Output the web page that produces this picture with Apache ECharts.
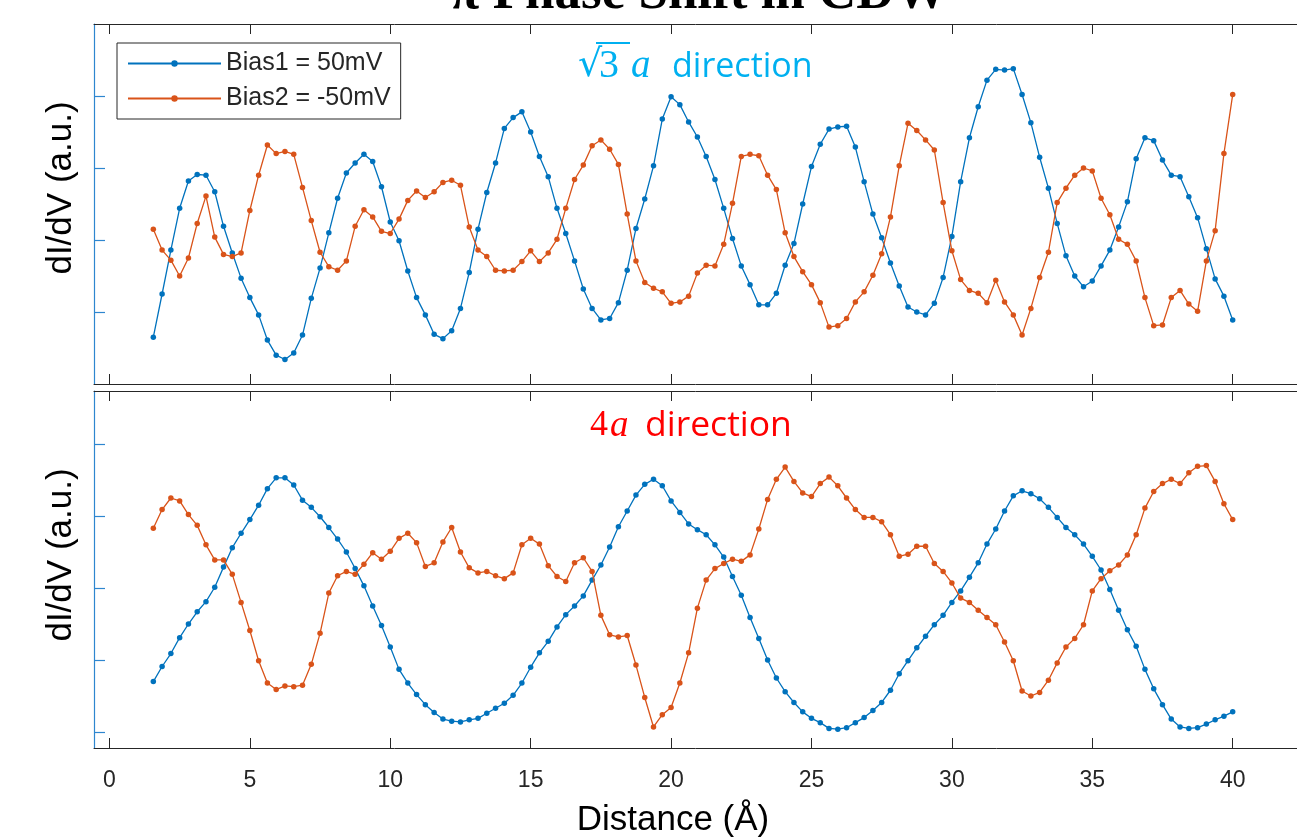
<!DOCTYPE html>
<html><head><meta charset="utf-8">
<script src="https://cdn.jsdelivr.net/npm/echarts@6/dist/echarts.min.js"></script>
<style>html,body{margin:0;padding:0;background:#fff;overflow:hidden}#c{width:1297px;height:839px}</style>
</head><body><div id="c"></div>
<script>
// Distance (Å) sample positions
const distance = [1.5625,1.875,2.1875,2.5,2.8125,3.125,3.4375,3.75,4.0625,4.375,4.6875,
5,5.3125,5.625,5.9375,6.25,6.5625,6.875,7.1875,7.5,7.8125,8.125,8.4375,8.75,9.0625,9.375,9.6875,
10,10.3125,10.625,10.9375,11.25,11.5625,11.875,12.1875,12.5,12.8125,13.125,13.4375,13.75,14.0625,14.375,14.6875,
15,15.3125,15.625,15.9375,16.25,16.5625,16.875,17.1875,17.5,17.8125,18.125,18.4375,18.75,19.0625,19.375,19.6875,
20,20.3125,20.625,20.9375,21.25,21.5625,21.875,22.1875,22.5,22.8125,23.125,23.4375,23.75,24.0625,24.375,24.6875,
25,25.3125,25.625,25.9375,26.25,26.5625,26.875,27.1875,27.5,27.8125,28.125,28.4375,28.75,29.0625,29.375,29.6875,
30,30.3125,30.625,30.9375,31.25,31.5625,31.875,32.1875,32.5,32.8125,33.125,33.4375,33.75,34.0625,34.375,34.6875,
35,35.3125,35.625,35.9375,36.25,36.5625,36.875,37.1875,37.5,37.8125,38.125,38.4375,38.75,39.0625,39.375,39.6875,
40];

// sqrt(3)a direction panel
const topBias1 = [0.65,1.25,1.86,2.44,2.82,2.91,2.90,2.67,2.19,1.82,
1.47,1.20,0.96,0.61,0.40,0.34,0.43,0.68,1.19,1.61,
2.10,2.58,2.93,3.07,3.19,3.09,2.74,2.25,1.99,1.57,
1.20,0.96,0.69,0.63,0.74,1.05,1.55,2.15,2.66,3.07,
3.55,3.70,3.78,3.50,3.16,2.88,2.44,2.09,1.71,1.32,
1.05,0.89,0.91,1.13,1.58,2.16,2.57,3.03,3.68,3.99,
3.88,3.64,3.43,3.16,2.84,2.44,2.02,1.64,1.38,1.10,
1.10,1.26,1.65,1.95,2.50,3.02,3.33,3.54,3.57,3.58,
3.29,2.81,2.36,2.03,1.68,1.36,1.07,1.00,0.96,1.12,
1.48,2.05,2.81,3.42,3.85,4.22,4.37,4.36,4.38,4.02,
3.63,3.15,2.72,2.23,1.78,1.50,1.35,1.43,1.64,1.86,
2.18,2.53,3.13,3.42,3.38,3.11,2.90,2.88,2.60,2.31,
1.88,1.46,1.22,0.89];
const topBias2 = [2.15,1.86,1.72,1.50,1.75,2.23,2.61,2.04,1.80,1.77,
1.82,2.41,2.90,3.32,3.20,3.23,3.19,2.73,2.27,1.83,
1.63,1.58,1.71,2.19,2.42,2.32,2.12,2.09,2.29,2.55,
2.68,2.59,2.67,2.80,2.83,2.76,2.18,1.86,1.77,1.58,
1.57,1.58,1.70,1.85,1.70,1.82,2.01,2.44,2.84,3.04,
3.31,3.39,3.26,3.05,2.36,1.71,1.41,1.33,1.28,1.12,
1.14,1.22,1.54,1.65,1.64,1.94,2.51,3.16,3.19,3.17,
2.90,2.70,2.10,1.77,1.56,1.38,1.13,0.79,0.81,0.91,
1.14,1.28,1.51,1.81,2.32,3.03,3.62,3.52,3.39,3.25,
2.52,1.85,1.45,1.30,1.26,1.13,1.44,1.14,0.96,0.68,
1.05,1.48,1.83,2.52,2.72,2.90,3.00,2.96,2.58,2.35,
2.01,1.94,1.71,1.20,0.81,0.82,1.20,1.30,1.11,1.01,
1.71,2.13,3.20,4.02];

// 4a direction panel
const bottomBias1 = [0.70,0.91,1.09,1.31,1.50,1.67,1.81,2.01,2.29,2.56,
2.76,2.95,3.15,3.38,3.53,3.53,3.43,3.22,3.12,2.99,
2.84,2.68,2.50,2.27,2.03,1.75,1.48,1.18,0.87,0.68,
0.52,0.38,0.27,0.18,0.15,0.14,0.17,0.19,0.26,0.33,
0.40,0.51,0.68,0.90,1.10,1.26,1.46,1.63,1.75,1.89,
2.11,2.32,2.57,2.85,3.07,3.29,3.44,3.51,3.42,3.21,
3.05,2.89,2.81,2.74,2.60,2.43,2.16,1.90,1.59,1.30,
1.00,0.75,0.56,0.41,0.28,0.19,0.13,0.05,0.04,0.06,
0.13,0.20,0.30,0.41,0.58,0.81,0.99,1.17,1.33,1.49,
1.62,1.80,1.96,2.15,2.35,2.61,2.82,3.07,3.28,3.35,
3.31,3.24,3.12,2.98,2.84,2.74,2.61,2.44,2.25,1.98,
1.69,1.42,1.19,0.87,0.60,0.38,0.18,0.07,0.05,0.06,
0.11,0.17,0.22,0.28];
const bottomBias2 = [2.83,3.09,3.25,3.21,3.02,2.87,2.60,2.39,2.39,2.19,
1.80,1.41,0.99,0.68,0.59,0.64,0.63,0.65,0.94,1.37,
1.93,2.17,2.23,2.19,2.33,2.49,2.40,2.51,2.69,2.76,
2.63,2.30,2.35,2.64,2.84,2.50,2.28,2.21,2.23,2.17,
2.13,2.21,2.60,2.69,2.61,2.31,2.16,2.09,2.35,2.42,
2.23,1.62,1.35,1.32,1.34,0.93,0.48,0.07,0.24,0.34,
0.68,1.10,1.72,2.11,2.27,2.34,2.40,2.37,2.46,2.82,
3.23,3.51,3.68,3.48,3.32,3.27,3.45,3.54,3.42,3.25,
3.09,2.98,2.98,2.92,2.74,2.44,2.47,2.58,2.58,2.34,
2.23,2.07,1.86,1.80,1.69,1.59,1.49,1.25,0.99,0.57,
0.50,0.55,0.72,0.96,1.18,1.30,1.49,1.96,2.13,2.24,
2.32,2.46,2.74,3.11,3.34,3.45,3.51,3.45,3.60,3.69,
3.70,3.48,3.17,2.95];

const xTicks = [0,5,10,15,20,25,30,35,40];
const yTicksTop = [1,2,3,4];
const yTicksBottom = [0,1,2,3,4];
const seriesNames = ['Bias1 = 50mV','Bias2 = -50mV'];
const titleText = 'π Phase Shift in CDW';
const xName = 'Distance (Å)';
const yName = 'dI/dV (a.u.)';

const BLUE = '#0072BD', ORANGE = '#D95319', AX = '#262626', YAX = '#2E86CF';
const SANS = "'Liberation Sans', Arial, sans-serif";
const SERIF = "'Liberation Serif', 'Times New Roman', serif";

function xAx(gridIndex, position, showLabel) {
  return {
    type: 'value', gridIndex, position, min: -0.55, max: 42.29,
    axisLine: { show: true, onZero: false, lineStyle: { color: AX, width: 1 } },
    axisTick: { show: true, inside: true, length: 10, customValues: xTicks, lineStyle: { color: AX, width: 1 } },
    axisLabel: { show: showLabel, customValues: xTicks, margin: 21, color: AX, fontSize: 23, fontFamily: SANS },
    splitLine: { show: false }
  };
}
function yAx(gridIndex, min, max, ticks) {
  return {
    type: 'value', gridIndex, min, max,
    axisLine: { show: true, onZero: false, lineStyle: { color: YAX, width: 1.2 } },
    axisTick: { show: true, inside: true, length: 11, customValues: ticks, lineStyle: { color: YAX, width: 1.2 } },
    axisLabel: { show: false },
    splitLine: { show: false }
  };
}
function mk(name, vals, xi, yi, color, z) {
  return {
    type: 'line', name, xAxisIndex: xi, yAxisIndex: yi,
    data: distance.map((d, i) => [d, vals[i]]),
    symbol: 'circle', symbolSize: 5.5, showSymbol: true,
    lineStyle: { color, width: 1.3 }, itemStyle: { color },
    emphasis: { disabled: true }, animation: false, z
  };
}
function txt(x, y, text, font, fill, align, rotation) {
  return {
    type: 'text', x, y, rotation: rotation || 0, z: 100,
    style: { text, font, fill, align: align || 'left', textAlign: align || 'left',
             verticalAlign: 'middle', textVerticalAlign: 'middle' }
  };
}

const chart = echarts.init(document.getElementById('c'), null, { renderer: 'canvas' });
chart.setOption({
  backgroundColor: '#fff',
  animation: false,
  grid: [
    { left: 94, top: 24, right: 0, height: 360 },
    { left: 94, top: 391, right: 0, height: 357 }
  ],
  xAxis: [ xAx(0, 'bottom', false), xAx(0, 'top', false), xAx(1, 'bottom', true), xAx(1, 'top', false) ],
  yAxis: [ yAx(0, 0, 5, yTicksTop), yAx(1, -0.222, 4.736, yTicksBottom) ],
  legend: {
    data: seriesNames, orient: 'vertical', left: 117, top: 43,
    itemWidth: 93, itemHeight: 8, itemGap: 10, padding: [8, 10, 8, 10],
    borderColor: AX, borderWidth: 1, backgroundColor: '#fff', borderRadius: 0,
    textStyle: { fontSize: 25, color: AX, fontFamily: SANS, lineHeight: 24 },
    selectedMode: false
  },
  series: [
    mk(seriesNames[0], topBias1, 0, 0, BLUE, 2),
    mk(seriesNames[1], topBias2, 0, 0, ORANGE, 3),
    mk(seriesNames[0], bottomBias1, 2, 1, BLUE, 2),
    mk(seriesNames[1], bottomBias2, 2, 1, ORANGE, 3)
  ],
  graphic: { elements: [
    txt(699, -6, titleText, 'bold 53px ' + SERIF, '#000', 'center'),
    txt(673, 820, xName, '35px ' + SANS, '#000', 'center'),
    txt(61, 188, yName, '35px ' + SANS, '#000', 'center', Math.PI / 2),
    txt(61, 555, yName, '35px ' + SANS, '#000', 'center', Math.PI / 2),
    // sqrt(3)a direction
    txt(578, 66, '√', '38px DejaVu Serif', '#00B0F0', 'left'),
    { type: 'line', z: 100, shape: { x1: 596, y1: 43, x2: 630, y2: 43 }, style: { stroke: '#00B0F0', lineWidth: 1.8 } },
    txt(599, 66, '3', '40px ' + SERIF, '#00B0F0', 'left'),
    txt(631, 67, 'a', 'italic 39px ' + SERIF, '#00B0F0', 'left'),
    txt(672, 67, 'direction', "34px 'Open Sans'", '#00B0F0', 'left'),
    // 4a direction
    txt(590, 426, '4', '36px ' + SERIF, '#FF0000', 'left'),
    txt(610, 426, 'a', 'italic 37px ' + SERIF, '#FF0000', 'left'),
    txt(645, 426, 'direction', "35.5px 'Open Sans'", '#FF0000', 'left')
  ]}
});
</script></body></html>
